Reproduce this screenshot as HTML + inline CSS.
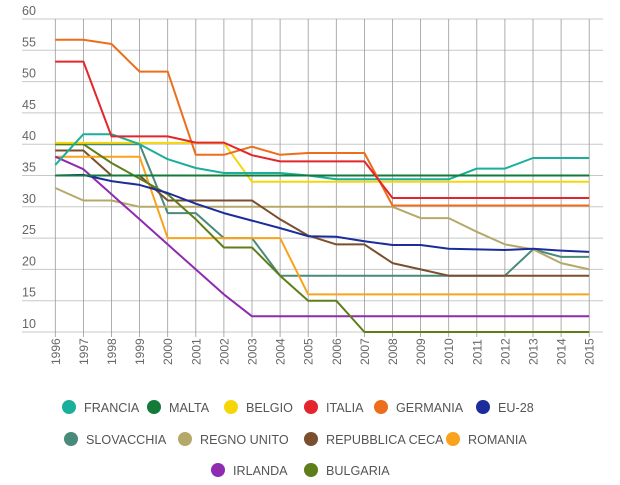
<!DOCTYPE html>
<html><head><meta charset="utf-8"><style>
html,body{margin:0;padding:0;background:#fff;}
svg{display:block;font-family:"Liberation Sans",sans-serif;}
</style></head><body>
<svg id="c" width="620" height="485" viewBox="0 0 620 485">
<g id="grid" stroke="#c8c8c8" stroke-width="1"></g>
<g id="vgrid" stroke="#9a9a9a" stroke-width="0.8"></g>
<g id="ylab" fill="#666" font-size="12.5"></g>
<g id="xlab" fill="#666" font-size="12"></g>
<g id="series" fill="none" stroke-width="2" stroke-linejoin="round"></g>
<g id="legend" font-size="12.6" fill="#555"></g>
</svg>
<script>
var NS="http://www.w3.org/2000/svg";
function el(p,t,a,txt){var e=document.createElementNS(NS,t);for(var k in a)e.setAttribute(k,a[k]);if(txt)e.textContent=txt;document.getElementById(p).appendChild(e);return e;}
function Y(v){return 19+(60-v)*6.26;}
function X(i){return 55.3+i*28.1;}
for(var v=10;v<=60;v+=5){var y=Y(v);el("grid","line",{x1:22,x2:603,y1:y,y2:y});el("ylab","text",{x:22,y:y-4},String(v));}
for(var i=0;i<20;i++){var x=X(i);el("vgrid","line",{x1:x,x2:x,y1:19,y2:337});
el("xlab","text",{transform:"translate("+(x+4.5)+",365) rotate(-90)"},String(1996+i));}
var S=[
["#4a8a7a",[40,40,40,40,29,29,25,25,19,19,19,19,19,19,19,19,19,23.2,22,22]],
["#b5a96a",[33,31,31,30,30,30,30,30,30,30,30,30,30,28.2,28.2,26,24,23.2,21,20]],
["#7b4f2e",[39,39,35,35,31,31,31,31,28,25.4,24,24,21,20,19,19,19,19,19,19]],
["#f9a21b",[38,38,38,38,25,25,25,25,25,16,16,16,16,16,16,16,16,16,16,16]],
["#8e2bb0",[38,36,32,28,24,20,16,12.5,12.5,12.5,12.5,12.5,12.5,12.5,12.5,12.5,12.5,12.5,12.5,12.5]],
["#5e7e1a",[40,40,37,34.5,32,28,23.5,23.5,19,15,15,10,10,10,10,10,10,10,10,10]],
["#1a2d9a",[35,35.1,34.1,33.5,32.2,30.5,29,27.8,26.6,25.3,25.2,24.5,23.9,23.9,23.3,23.2,23.1,23.3,23,22.8]],
["#f5d60a",[40.2,40.2,40.2,40.2,40.2,40.2,40.2,34,34,34,34,34,34,34,34,34,34,34,34,34]],
["#1aaf9b",[36.7,41.6,41.6,40,37.6,36.2,35.4,35.4,35.4,35,34.4,34.4,34.4,34.4,34.4,36.1,36.1,37.8,37.8,37.8]],
["#137a3a",[35,35,35,35,35,35,35,35,35,35,35,35,35,35,35,35,35,35,35,35]],
["#ec6e1d",[56.7,56.7,56,51.6,51.6,38.3,38.3,39.6,38.3,38.6,38.6,38.6,30.2,30.2,30.2,30.2,30.2,30.2,30.2,30.2]],
["#e3262b",[53.2,53.2,41.25,41.25,41.25,40.25,40.25,38.25,37.25,37.25,37.25,37.25,31.4,31.4,31.4,31.4,31.4,31.4,31.4,31.4]]
];
S.forEach(function(s){var p=s[1].map(function(v,i){return X(i).toFixed(1)+","+Y(v).toFixed(1);}).join(" ");el("series","polyline",{points:p,stroke:s[0]});});
var L=[
[69,407,"#1aaf9b","FRANCIA"],[154,407,"#137a3a","MALTA"],[231,407,"#f5d60a","BELGIO"],[311,407,"#e3262b","ITALIA"],[381,407,"#ec6e1d","GERMANIA"],[483,407,"#1a2d9a","EU-28"],
[71,439,"#4a8a7a","SLOVACCHIA"],[185,439,"#b5a96a","REGNO UNITO"],[311,439,"#7b4f2e","REPUBBLICA CECA"],[453,439,"#f9a21b","ROMANIA"],
[218,470,"#8e2bb0","IRLANDA"],[311,470,"#5e7e1a","BULGARIA"]];
L.forEach(function(l){el("legend","circle",{cx:l[0],cy:l[1],r:7,fill:l[2]});el("legend","text",{x:l[0]+15,y:l[1]+5},l[3]);});
</script>
</body></html>
